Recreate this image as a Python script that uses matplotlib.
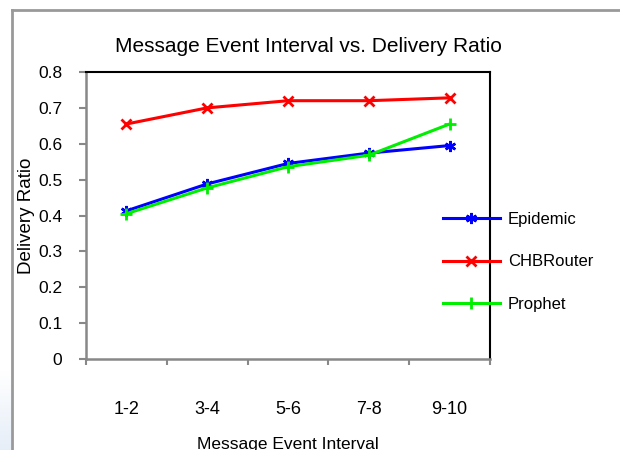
import matplotlib
matplotlib.use("Agg")
import matplotlib.pyplot as plt
import numpy as np
from matplotlib.lines import Line2D
from matplotlib.colors import LinearSegmentedColormap

plt.rcParams['font.family'] = ['Liberation Sans', 'DejaVu Sans']

# Data
categories = ['1-2', '3-4', '5-6', '7-8', '9-10']
epidemic = [0.413, 0.488, 0.545, 0.574, 0.595]
chbrouter = [0.655, 0.700, 0.720, 0.720, 0.728]
prophet = [0.405, 0.477, 0.536, 0.568, 0.655]
yticks = [0, 0.1, 0.2, 0.3, 0.4, 0.5, 0.6, 0.7, 0.8]

fig = plt.figure(figsize=(6.2, 4.5), dpi=100)
ax = fig.add_axes([86/620, 1 - 359/450, (490 - 86)/620, (359 - 72)/450])

x = list(range(1, len(categories) + 1))
ax.plot(x, epidemic, color='#0000ff', lw=2.2, marker=(6, 2, 0), ms=8, mew=1.8, label='Epidemic')
ax.plot(x, chbrouter, color='#ff0000', lw=2.2, marker='x', ms=7, mew=2, label='CHBRouter')
ax.plot(x, prophet, color='#00ee00', lw=2.2, marker='+', ms=9, mew=2, label='Prophet')

ax.set_xlim(0.5, len(categories) + 0.5)
ax.set_ylim(0, 0.8)
ax.set_yticks(yticks)
ax.set_yticklabels(['0' if v == 0 else f'{v:.1f}' for v in yticks], fontsize=12.5)
ax.set_xticks(x)
ax.set_xticklabels(categories, fontsize=13)
ax.set_xticks([i + 0.5 for i in range(len(categories) + 1)], minor=True)
ax.tick_params(axis='x', which='major', length=0, pad=30)
ax.tick_params(axis='x', which='minor', length=4, width=1.5, color='#888888', direction='out')
ax.tick_params(axis='y', length=5, width=1.5, color='#888888', pad=12)

for side in ['left', 'bottom']:
    ax.spines[side].set_color('#888888')
    ax.spines[side].set_linewidth(1.8)
for side in ['top', 'right']:
    ax.spines[side].set_color('black')
    ax.spines[side].set_linewidth(1.5)

ax.set_xlabel('Message Event Interval', fontsize=12.5, labelpad=14)
ax.set_ylabel('Delivery Ratio', fontsize=13.5, labelpad=2)
fig.text(308/620, 1 - 47/450, 'Message Event Interval vs. Delivery Ratio',
         ha='center', va='center', fontsize=15)

leg = ax.legend(loc='center left', bbox_to_anchor=(443/620, 1 - 262/450),
                bbox_transform=fig.transFigure, frameon=False, fontsize=12,
                handlelength=3.4, handletextpad=0.5, labelspacing=1.65,
                borderpad=0, borderaxespad=0)

# faint blue glow in the lower left corner
gax = fig.add_axes([0, 0, 11/620, 80/450])
grad = np.linspace(0, 1, 50).reshape(-1, 1)
cmap = LinearSegmentedColormap.from_list('glow', ['#ffffff', '#e6eef8'])
gax.imshow(grad, aspect='auto', cmap=cmap, origin='upper')
gax.axis('off')

# outer chart frame
fig.add_artist(Line2D([11.5/620, 11.5/620], [0, 1 - 9.5/450], color='#999999', lw=2,
                      transform=fig.transFigure))
fig.add_artist(Line2D([11.5/620, 1], [1 - 9.5/450, 1 - 9.5/450], color='#999999', lw=2,
                      transform=fig.transFigure))

fig.savefig('out.png', dpi=100)
